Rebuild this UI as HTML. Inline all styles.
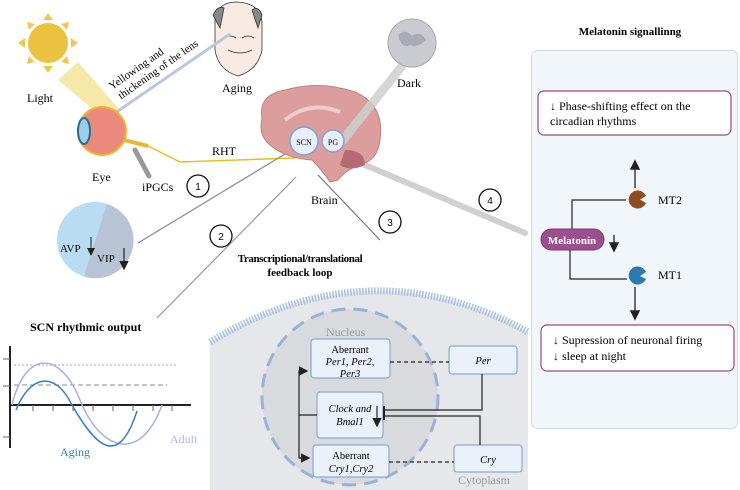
<!DOCTYPE html>
<html><head><meta charset="utf-8"><style>
html,body{margin:0;padding:0;width:740px;height:490px;background:#fff;overflow:hidden}
svg{font-family:"Liberation Serif",serif;display:block}
</style></head><body>
<svg width="740" height="490" viewBox="0 0 740 490" xmlns="http://www.w3.org/2000/svg">
<defs>
<marker id="ar" markerWidth="8" markerHeight="8" refX="6" refY="4" orient="auto"><path d="M0,0 L8,4 L0,8z" fill="#222"/></marker>
</defs>
<g fill="#f1c84a">
<circle cx="48" cy="43" r="20" fill="#ebc240"/>
<polygon points="48,13 43,20 53,20"/><polygon points="48,73 43,66 53,66"/>
<polygon points="18,43 25,38 25,48"/><polygon points="78,43 71,38 71,48"/>
<polygon points="27,22 35,24 29,30"/><polygon points="69,22 61,24 67,30"/>
<polygon points="27,64 35,62 29,56"/><polygon points="69,64 61,62 67,56"/>
</g>
<polygon points="58,80 78,62 120,110 108,122" fill="#f4e49a" opacity="0.85"/>
<text x="27" y="102" font-size="12">Light</text>
<g stroke="#333" fill="#f7ebe3" stroke-width="0.8">
<path d="M215,20 Q217,2 237,2 Q260,3 262,22 L262,50 Q258,70 238,76 Q218,70 215,50z"/>
<path d="M213,15 Q218,5 224,8 L220,28z" fill="#888"/>
<path d="M262,15 Q258,5 252,10 L258,28z" fill="#888"/>
<path d="M224,38 Q230,34 236,38 M242,38 Q248,34 254,38 M228,50 Q240,56 252,50" fill="none"/>
</g>
<text x="222" y="92" font-size="12">Aging</text>
<line x1="102" y1="122" x2="230" y2="34" stroke="#b8c9dc" stroke-width="3"/>
<text transform="translate(112,90) rotate(-35)" font-size="11"><tspan x="0" y="0">Yellowing and</tspan><tspan x="2" y="13">thickening of the lens</tspan></text>
<ellipse cx="102" cy="131" rx="24" ry="24" fill="#e98a7c" stroke="#f0b530" stroke-width="2"/>
<ellipse cx="84" cy="131" rx="6" ry="13" fill="#9ad0e6" stroke="#2b6d8f" stroke-width="2"/>
<path d="M124,140 L148,146" stroke="#f0b530" stroke-width="4"/>
<line x1="135" y1="150" x2="149" y2="176" stroke="#999" stroke-width="5" stroke-linecap="round"/>
<text x="92" y="181" font-size="12">Eye</text>
<text x="142" y="191" font-size="12">iPGCs</text>
<path d="M148,146 L180,162 L295,158" fill="none" stroke="#e6be22" stroke-width="1.5"/>
<text x="212" y="155" font-size="12">RHT</text>
<line x1="285" y1="154" x2="138" y2="243" stroke="#888" stroke-width="1.2"/>
<line x1="296" y1="177" x2="157" y2="318" stroke="#999" stroke-width="1.2"/>
<line x1="318" y1="175" x2="380" y2="240" stroke="#777" stroke-width="1.2"/>
<line x1="365" y1="165" x2="525" y2="233" stroke="#d0d0d0" stroke-width="6" stroke-linecap="round"/>
<path d="M262,118 Q258,95 285,90 Q320,80 355,92 Q385,105 380,140 Q378,160 360,165 Q345,170 338,180 L330,182 Q322,170 312,160 Q285,158 270,145 Q258,135 262,118z" fill="#dc9e9d" stroke="#c07e80" stroke-width="1"/>
<path d="M285,120 Q310,100 340,112" fill="none" stroke="#f0cccb" stroke-width="4"/>
<path d="M345,150 Q365,150 365,165 Q350,172 340,165z" fill="#b46a72"/>
<line x1="402" y1="66" x2="343" y2="140" stroke="#cfcfcf" stroke-width="9" stroke-linecap="round" opacity="0.85"/>
<circle cx="304" cy="141" r="14" fill="#e9f0fb" stroke="#7fa2d3" stroke-width="1.5"/>
<circle cx="333" cy="141" r="11" fill="#e9f0fb" stroke="#7fa2d3" stroke-width="1.5"/>
<text x="304" y="145" font-size="8" text-anchor="middle">SCN</text>
<text x="333" y="145" font-size="8" text-anchor="middle">PG</text>
<text x="311" y="204" font-size="12">Brain</text>
<circle cx="412" cy="43" r="24" fill="#c9cbd0" stroke="#aaa"/>
<path d="M398,35 Q405,28 412,36 Q420,30 426,40 Q418,48 410,45 Q402,50 398,35z" fill="#a9acb3"/>
<text x="397" y="87" font-size="12">Dark</text>
<g fill="#fff" stroke="#111" stroke-width="1.3">
<circle cx="198" cy="186" r="11"/><circle cx="221" cy="236" r="11"/>
<circle cx="390" cy="222" r="11"/><circle cx="490" cy="200" r="11"/>
</g>
<g font-size="10" text-anchor="middle" font-family="Liberation Sans,sans-serif">
<text x="198" y="190">1</text><text x="221" y="240">2</text><text x="390" y="226">3</text><text x="490" y="204">4</text>
</g>
<circle cx="95" cy="240" r="38" fill="#b9dcf3"/>
<path d="M107,204 A38,38 0 0 1 84,276.5z" fill="#b8c4d6"/>
<text x="60" y="252" font-size="11">AVP</text>
<text x="97" y="262" font-size="11">VIP</text>
<line x1="91" y1="237" x2="91" y2="254" stroke="#222" marker-end="url(#ar)"/>
<line x1="124" y1="248" x2="124" y2="268" stroke="#222" stroke-width="1.2" marker-end="url(#ar)"/>
<text x="30" y="331" font-size="12" font-weight="bold">SCN rhythmic output</text>
<line x1="10" y1="346" x2="10" y2="448" stroke="#222" stroke-width="2"/>
<line x1="10" y1="405" x2="191" y2="405" stroke="#222" stroke-width="2"/>
<g stroke="#666"><line x1="3" y1="359" x2="10" y2="359"/><line x1="3" y1="386" x2="10" y2="386"/><line x1="3" y1="437" x2="10" y2="437"/>
<line x1="33" y1="405" x2="33" y2="411"/><line x1="53" y1="405" x2="53" y2="411"/><line x1="73" y1="405" x2="73" y2="411"/><line x1="93" y1="405" x2="93" y2="411"/><line x1="113" y1="405" x2="113" y2="411"/><line x1="133" y1="405" x2="133" y2="411"/><line x1="153" y1="405" x2="153" y2="411"/><line x1="172" y1="405" x2="172" y2="411"/></g>
<line x1="14" y1="365" x2="178" y2="365" stroke="#aaa" stroke-dasharray="2,2"/>
<line x1="14" y1="385" x2="167" y2="385" stroke="#888" stroke-dasharray="5,3"/>
<path d="M12,405 C25,350 60,350 80,400 C100,450 140,465 162,405" fill="none" stroke="#9fb5dd" stroke-width="1.5"/>
<path d="M16,410 C30,375 55,370 72,405 C95,445 118,470 137,411" fill="none" stroke="#3a7cc2" stroke-width="1.5"/>
<text x="60" y="456" font-size="12" fill="#3a7cc2">Aging</text>
<text x="170" y="443" font-size="12" fill="#a8bde0">Adult</text>
<text x="300" y="262" font-size="11" font-weight="bold" text-anchor="middle" letter-spacing="-0.4">Transcriptional/translational</text>
<text x="300" y="276" font-size="11" font-weight="bold" text-anchor="middle">feedback loop</text>
<path d="M210,490 V342 Q370,245 528,332 V490 Z" fill="#e6e7eb"/>
<path d="M210,342 Q370,245 528,332" fill="none" stroke="#a8bfe0" stroke-width="7" stroke-dasharray="1.5,1.5"/>
<circle cx="350" cy="397" r="88" fill="#d9dadd" stroke="#9ab2d6" stroke-width="3" stroke-dasharray="14,8"/>
<text x="326" y="336" font-size="12" fill="#999">Nucleus</text>
<text x="458" y="484" font-size="12" fill="#999">Cytoplasm</text>
<g fill="#ebf1fa" stroke="#8ea8d3" stroke-width="1.2">
<rect x="311" y="339" width="79" height="39" rx="3"/>
<rect x="317" y="392" width="66" height="46" rx="3"/>
<rect x="313" y="445" width="76" height="32" rx="3"/>
<rect x="449" y="346" width="68" height="28" rx="3"/>
<rect x="454" y="445" width="68" height="27" rx="3"/>
</g>
<g font-size="10.5" text-anchor="middle">
<text x="350" y="353">Aberrant</text>
<text x="350" y="365" font-style="italic">Per1, Per2,</text>
<text x="350" y="377" font-style="italic">Per3</text>
<text x="350" y="412" font-style="italic">Clock and</text>
<text x="350" y="425" font-style="italic">Bmal1</text>
<text x="351" y="459">Aberrant</text>
<text x="351" y="472" font-style="italic">Cry1,Cry2</text>
<text x="483" y="364" font-style="italic">Per</text>
<text x="488" y="463" font-style="italic">Cry</text>
</g>
<g stroke="#222" stroke-width="1.2" fill="none">
<line x1="390" y1="362" x2="449" y2="362" stroke-dasharray="4,3"/>
<line x1="389" y1="462" x2="454" y2="462" stroke-dasharray="4,3"/>
<path d="M482,374 V410 H384"/><path d="M480,445 V416 H384"/>
<line x1="384" y1="406" x2="384" y2="420" stroke-width="2"/>
<line x1="377" y1="406" x2="377" y2="425" marker-end="url(#ar)"/>
<path d="M317,415 H299 V371 H306" marker-end="url(#ar)"/>
<path d="M299,415 V458 H308" marker-end="url(#ar)"/>
</g>
<text x="630" y="35" font-size="11" font-weight="bold" text-anchor="middle">Melatonin signallinng</text>
<rect x="531.5" y="50.5" width="206" height="378" rx="6" fill="#f1f6fb" stroke="#cfdbe9"/>
<rect x="538" y="91" width="193" height="44" rx="6" fill="#fff" stroke="#9b4a80" stroke-width="1.2"/>
<text x="550" y="110" font-size="12">↓  Phase-shifting effect on the</text>
<text x="550" y="125" font-size="12">circadian rhythms</text>
<line x1="635" y1="188" x2="635" y2="162" stroke="#222" stroke-width="1.3" marker-end="url(#ar)"/>
<path d="M572,230 V200 H626" fill="none" stroke="#222" stroke-width="1.2"/>
<path d="M646,196 A9,9 0 1 0 646,203 L640,199.5z" fill="#8f4d20"/>
<rect x="541" y="229" width="63" height="21" rx="10.5" fill="#9b4f8e" stroke="#7d3b70"/>
<text x="572" y="244" font-size="11" font-weight="bold" fill="#fff" text-anchor="middle">Melatonin</text>
<line x1="614" y1="235" x2="614" y2="250" stroke="#222" stroke-width="1.3" marker-end="url(#ar)"/>
<text x="658" y="204" font-size="12">MT2</text>
<path d="M570,250 V279 H627" fill="none" stroke="#222" stroke-width="1.2"/>
<path d="M646,272 A9,9 0 1 0 646,279 L640,276z" fill="#2e7ab0"/>
<text x="658" y="279" font-size="12">MT1</text>
<line x1="635" y1="287" x2="635" y2="318" stroke="#222" stroke-width="1.3" marker-end="url(#ar)"/>
<rect x="541" y="325" width="193" height="46" rx="6" fill="#fff" stroke="#9b4a80" stroke-width="1.2"/>
<text x="553" y="344" font-size="12">↓ Supression of neuronal firing</text>
<text x="553" y="360" font-size="12">↓  sleep at night</text>
</svg>
</body></html>
